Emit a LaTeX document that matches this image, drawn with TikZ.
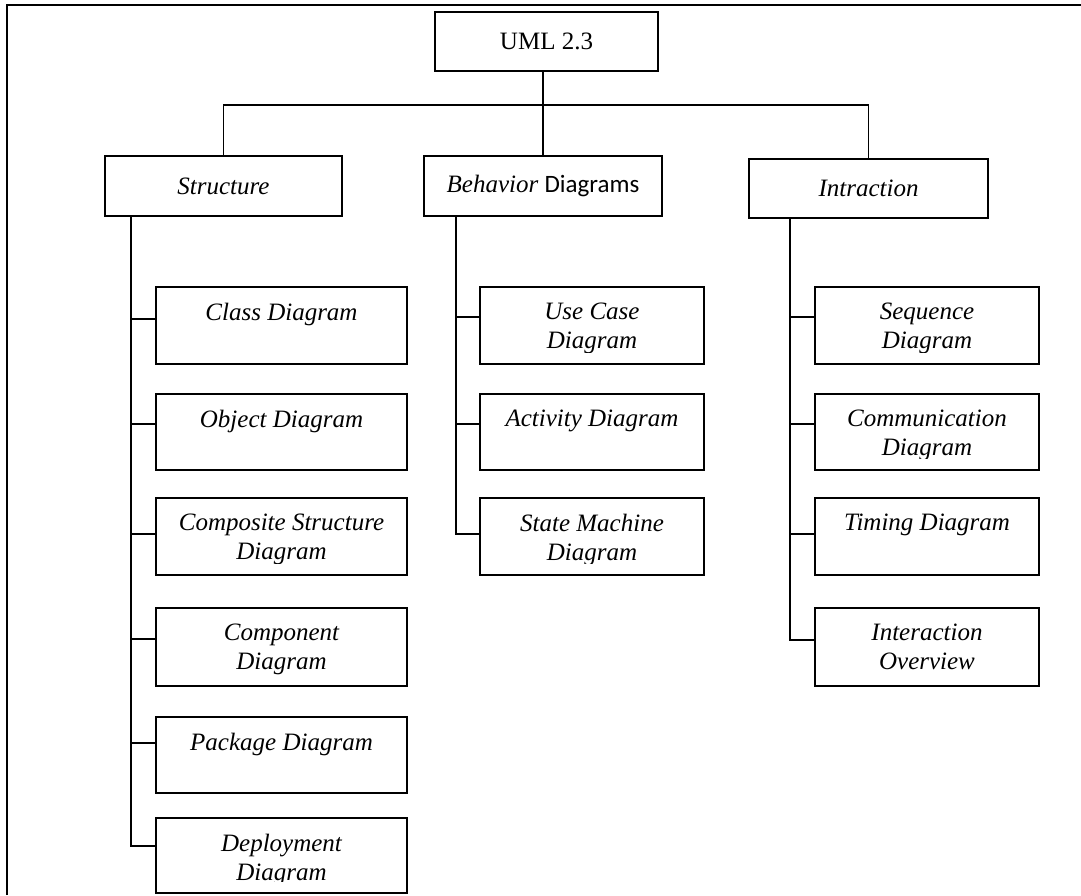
\documentclass[tikz,border=0pt]{standalone}
\usepackage{fontspec}
\setmainfont{Liberation Serif}
\newfontfamily\calibrifont{Carlito}
\newcommand\leaflabel[2]{\begin{scope}\clip ([yshift=12pt]#1.south west) rectangle (#1.north east);\node[lbl] at ([yshift=-17pt]#1.north) {#2};\end{scope}}
\begin{document}
\begin{tikzpicture}[x=1pt,y=-1pt,
  frame/.style={line width=2.6pt},
  conn/.style={line width=1.8pt},
  topbox/.style={draw,line width=1.8pt,inner sep=0pt,font=\fontsize{25}{29}\selectfont},
  leafbox/.style={draw,line width=1.8pt,inner sep=0pt,minimum width=#1},
  lbl/.style={anchor=north,inner sep=0pt,align=center,font=\fontsize{25}{29}\selectfont\itshape}]
\useasboundingbox (0,0) rectangle (1081,895);
% frame
\draw[frame] (7,895) -- (7,5) -- (1081,5);
% top level
\node[topbox,minimum width=223pt,minimum height=59pt] (uml) at (546.5,41.5) {UML 2.3};
\node[topbox,minimum width=237pt,minimum height=60pt] (st) at (223.5,186) {\itshape Structure};
\node[topbox,minimum width=238pt,minimum height=60pt] (bh) at (543,186) {\textit{Behavior} {\calibrifont Diagrams}};
\node[topbox,minimum width=239pt,minimum height=59pt] (in) at (868.5,188.5) {\itshape Intraction};
\coordinate (bus) at (543,105);
\draw[conn] (bh.north |- uml.south) -- (bh.north);
\draw[conn] (st.north) |- (bus) -| (in.north);
% structure children
\node[leafbox=251pt,minimum height=77pt] (class) at (281.5,325.5) {};
\node[leafbox=251pt,minimum height=76pt] (object) at (281.5,432) {};
\node[leafbox=251pt,minimum height=77pt] (compos) at (281.5,536.5) {};
\node[leafbox=251pt,minimum height=78pt] (compon) at (281.5,647) {};
\node[leafbox=251pt,minimum height=76pt] (package) at (281.5,755) {};
\node[leafbox=251pt,minimum height=75pt] (deploy) at (281.5,855.5) {};
% behavior children
\node[leafbox=224pt,minimum height=77pt] (usecase) at (592,325.5) {};
\node[leafbox=224pt,minimum height=76pt] (activity) at (592,432) {};
\node[leafbox=224pt,minimum height=77pt] (statem) at (592,536.5) {};
% interaction children
\node[leafbox=224pt,minimum height=77pt] (seq) at (927,325.5) {};
\node[leafbox=224pt,minimum height=76pt] (comm) at (927,432) {};
\node[leafbox=224pt,minimum height=77pt] (timing) at (927,536.5) {};
\node[leafbox=224pt,minimum height=78pt] (overview) at (927,647) {};
% labels
\leaflabel{class}{Class Diagram}
\leaflabel{object}{Object Diagram}
\leaflabel{compos}{Composite Structure\\Diagram}
\leaflabel{compon}{Component\\Diagram}
\leaflabel{package}{Package Diagram}
\leaflabel{deploy}{Deployment\\Diagram}
\leaflabel{usecase}{Use Case\\Diagram}
\leaflabel{activity}{Activity Diagram}
\leaflabel{statem}{State Machine\\Diagram}
\leaflabel{seq}{Sequence\\Diagram}
\leaflabel{comm}{Communication\\Diagram}
\leaflabel{timing}{Timing Diagram}
\leaflabel{overview}{Interaction\\Overview}
% trunks
\coordinate (sT) at (131,216);
\coordinate (bT) at (456,216);
\coordinate (iT) at (790,218);
\coordinate (s1) at (156,319);
\coordinate (s2) at (156,424);
\coordinate (s3) at (156,534);
\coordinate (s4) at (156,639);
\coordinate (s5) at (156,743);
\coordinate (s6) at (156,846);
\coordinate (b1) at (480,317);
\coordinate (b2) at (480,424);
\coordinate (b3) at (480,534);
\coordinate (i1) at (815,317);
\coordinate (i2) at (815,424);
\coordinate (i3) at (815,534);
\coordinate (i4) at (815,640);
\draw[conn] (sT) -- (s6 -| sT) -- (s6);
\foreach \c in {s1,s2,s3,s4,s5} \draw[conn] (\c -| sT) -- (\c);
\draw[conn] (bT) -- (b3 -| bT) -- (b3);
\foreach \c in {b1,b2} \draw[conn] (\c -| bT) -- (\c);
\draw[conn] (iT) -- (i4 -| iT) -- (i4);
\foreach \c in {i1,i2,i3} \draw[conn] (\c -| iT) -- (\c);
\end{tikzpicture}
\end{document}
